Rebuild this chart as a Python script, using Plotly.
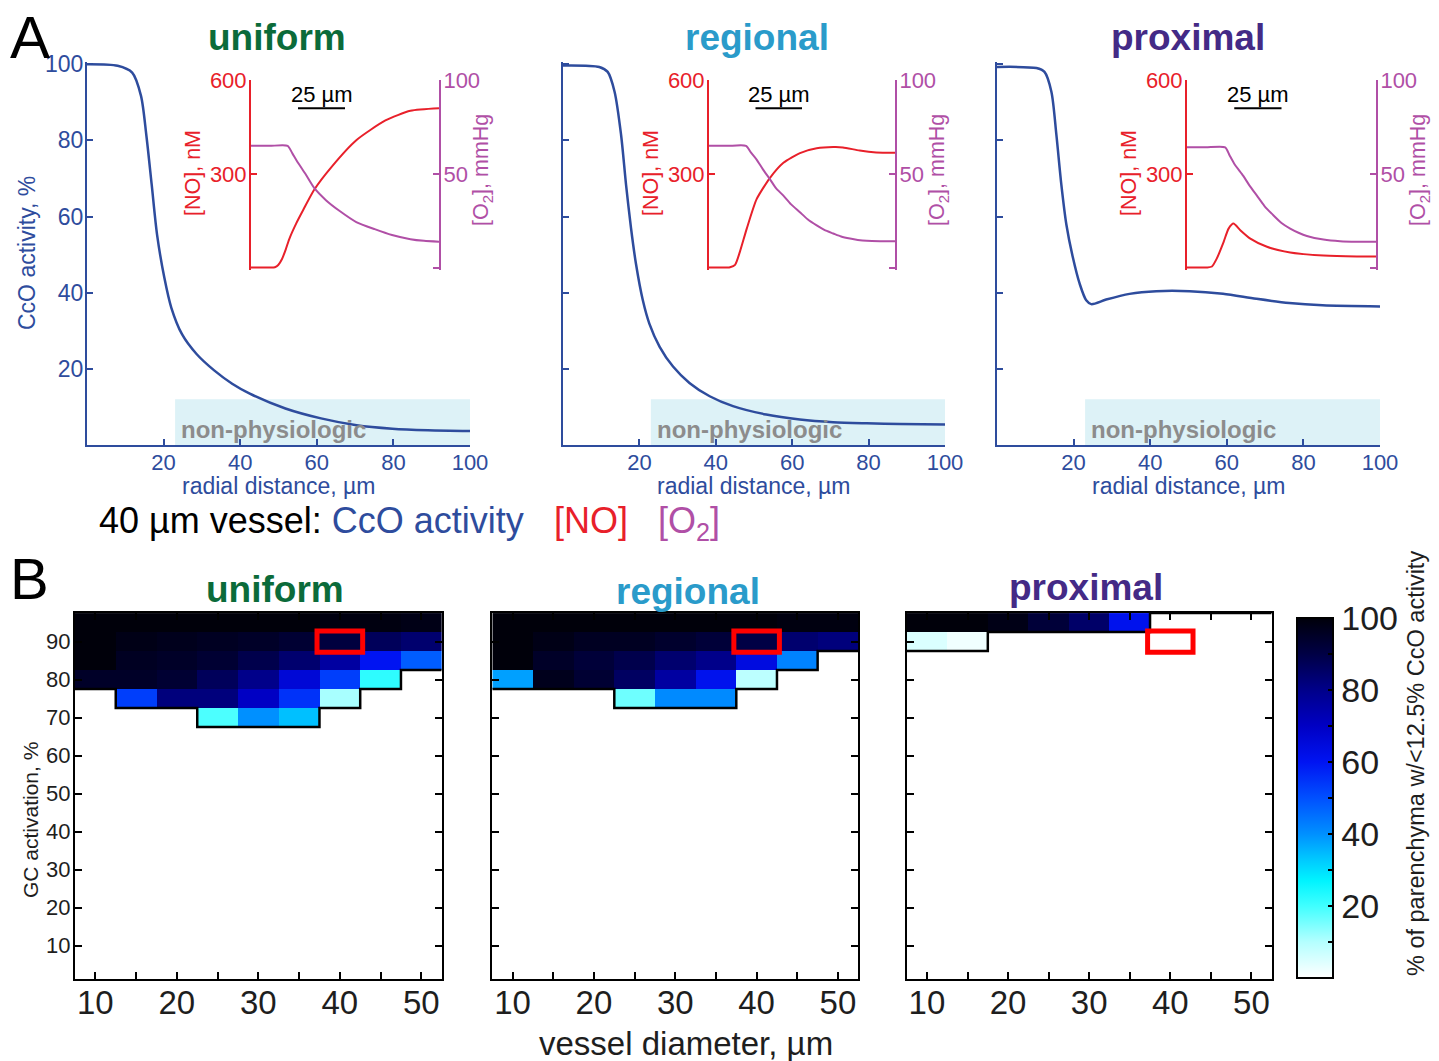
import plotly.graph_objects as go

W, H = 1439, 1061
FONT = "Liberation Sans, Arial, Helvetica, sans-serif"

# ---------------- data: panel A (40 um vessel) ----------------
scenarios = ["uniform", "regional", "proximal"]

uniform_cco_r = [0, 8, 11.8, 14.1, 15.5, 16.9, 18.3, 20.2, 22, 24.8, 28.6, 33.2, 37.9, 42.5, 51.8, 61.1, 70.4, 79.7, 89, 100]
uniform_cco = [100, 99.6, 97.8, 91.7, 81.3, 68.3, 55.2, 43.9, 36.1, 29.1, 23.9, 19.6, 16.1, 13.5, 9.6, 7.0, 5.2, 4.3, 3.9, 3.7]
regional_cco_r = [0, 9.5, 11.7, 13.5, 15.2, 16.5, 17.8, 19.1, 20.9, 22.6, 25.3, 28.8, 33.1, 38.4, 44.5, 53.2, 62, 70.7, 79.5, 88.2, 100]
regional_cco = [99.7, 99.3, 98, 92.8, 81.5, 68.4, 57, 47.6, 38, 31.9, 25.8, 20.6, 16.3, 12.8, 10.2, 8, 6.7, 6, 5.7, 5.5, 5.4]
proximal_cco_r = [0, 10.3, 12.4, 14.2, 15.5, 16.8, 18.1, 19.8, 21.6, 23.3, 24.6, 28.5, 34.6, 41.6, 50.3, 59, 67.7, 76.3, 85, 100]
proximal_cco = [99.3, 99, 98, 92.8, 81.5, 68.4, 58, 49.3, 42.3, 38, 37, 38.2, 39.7, 40.4, 40.4, 39.7, 38.4, 37.3, 36.7, 36.4]

uniform_no_r = [0, 10, 12.7, 14.5, 16.5, 18.5, 20.3, 24, 27.9, 33.6, 43, 56, 71.5, 84.8, 100]
uniform_no = [2, 2, 3, 10, 29, 60, 92, 142, 187, 250, 324, 408, 471, 502, 510]
regional_no_r = [0, 10, 11.3, 14, 16.6, 20.3, 25.6, 32.8, 40, 48.9, 57.9, 66.8, 72, 81, 89.9, 100]
regional_no = [2, 2, 3, 10.5, 52, 126, 220, 288, 336, 367, 382, 386, 385, 375, 369, 368]
proximal_no_r = [0, 10.6, 13.2, 15.8, 19.4, 22, 24.6, 28.2, 33.5, 42.3, 54.6, 72.2, 89.8, 100]
proximal_no = [2, 2, 5, 31, 84, 126, 142, 121, 94, 68, 50, 40, 37, 37]

uniform_o2_r = [0, 10, 19.5, 22, 25, 29, 33.6, 40, 47, 56, 65.8, 75, 84.8, 92, 100]
uniform_o2 = [65, 65, 65, 61, 56, 50, 42.6, 36, 30.5, 24.5, 20.7, 17.6, 15.4, 14.5, 14]
regional_o2_r = [0, 10, 19.9, 22.5, 25.6, 29, 32.8, 36, 40, 44, 48.9, 53, 57.9, 62, 66.8, 71, 75.8, 80, 84.8, 92, 100]
regional_o2 = [65, 65, 65, 61.5, 57.7, 52.5, 47.2, 42.5, 38.5, 34, 29.7, 26, 22.7, 20.3, 18.4, 16.8, 15.7, 15, 14.5, 14.3, 14.3]
proximal_o2_r = [0, 10, 20.2, 22.5, 25, 29.8, 33, 37, 41, 45.8, 50, 54.6, 59, 63.4, 72.2, 81, 89.8, 100]
proximal_o2 = [64.2, 64.2, 64.2, 60, 55.5, 49, 44, 38.5, 33, 28, 24, 21, 18.8, 17.1, 15.2, 14.3, 14, 14]

nonphys_start, nonphys_end, nonphys_top = 23, 100, 12
scale_bar_start, scale_bar_len, scale_bar_level = 25, 25, 510

# ---------------- data: panel B heatmaps ----------------
diameters = [10, 15, 20, 25, 30, 35, 40, 45, 50]
gc_levels = [95, 90, 85, 80, 75, 70]
N = None
uniform_z = [
    [100, 100, 100, 100, 100, 100, 99, 99, 98],
    [100, 98, 97, 96, 95, 93, 91, 87, 84],
    [100, 96, 95, 93, 89, 84, 76, 60, 48],
    [95, 95, 93, 87, 80, 66, 53, 22, N],
    [N, 53, 82, 82, 70, 55, 11, N, N],
    [N, N, N, 19, 40, 34, N, N, N],
]
regional_z = [
    [100, 100, 100, 100, 100, 100, 100, 99, 99],
    [100, 98, 96, 96, 94, 92, 90, 84, 82],
    [100, 95, 92, 89, 84, 80, 64, 42, N],
    [38, 97, 93, 86, 76, 61, 9, N, N],
    [N, N, N, 16, 41, 41, N, N, N],
    [N, N, N, N, N, N, N, N, N],
]
proximal_z = [
    [100, 100, 98, 92, 85, 61, N, N, N],
    [5, 2, N, N, N, N, N, N, N],
    [N, N, N, N, N, N, N, N, N],
    [N, N, N, N, N, N, N, N, N],
    [N, N, N, N, N, N, N, N, N],
    [N, N, N, N, N, N, N, N, N],
]
highlight_diameter, highlight_gc = 40, 90
x_ticks_B = [10, 20, 30, 40, 50]
x_minor_B = [15, 25, 35, 45]
y_ticks_B = [10, 20, 30, 40, 50, 60, 70, 80, 90]
cbar_ticks = [10, 20, 30, 40, 50, 60, 70, 80, 90, 100]
cbar_labels = ["", "20", "", "40", "", "60", "", "80", "", "100"]

# ---------------- styles ----------------
BLUE = "#2e4c9d"
RED = "#e8202a"
PURPLE = "#b04fa6"
TITLE_COLORS = ["#0b6b3a", "#2a9bca", "#442a86"]
NONPHYS_FILL = "#ddf2f7"
DARK = "#1e1e1e"
cscale = [[0.0, "#ffffff"], [0.1, "#b4ffff"], [0.2, "#40ffff"], [0.27, "#00f4ff"],
          [0.33, "#00c8ff"], [0.4, "#0090ff"], [0.5, "#0050ff"], [0.6, "#0014f2"],
          [0.7, "#0000c4"], [0.8, "#00008a"], [0.9, "#000045"], [1.0, "#00000a"]]

main_x = [(87, 470), (563, 945), (997, 1380)]
main_y = (62, 445)
inset_x = [(251, 439), (709, 895), (1187, 1376)]
inset_y = (80, 270)
heat_x = [(75, 441.7), (492.3, 858.3), (906.7, 1271.7)]
heat_y = (612.7, 979)


def fx(px):
    return px / W


def fy(py):
    return 1 - py / H


def axname(kind, n):
    return kind + "axis" + ("" if n == 1 else str(n))


def ref(kind, n):
    return kind + ("" if n == 1 else str(n))


cco = [(uniform_cco_r, uniform_cco), (regional_cco_r, regional_cco), (proximal_cco_r, proximal_cco)]
no = [(uniform_no_r, uniform_no), (regional_no_r, regional_no), (proximal_no_r, proximal_no)]
o2 = [(uniform_o2_r, uniform_o2), (regional_o2_r, regional_o2), (proximal_o2_r, proximal_o2)]
heat = [uniform_z, regional_z, proximal_z]

fig = go.Figure()
layout = dict(width=W, height=H, margin=dict(l=0, r=0, t=0, b=0, pad=0, autoexpand=False),
              paper_bgcolor="white", plot_bgcolor="rgba(0,0,0,0)",
              showlegend=False, font=dict(family=FONT))
shapes = []
annotations = []


def ann(text, px, py, size, color="black", xanchor="center", yanchor="middle", angle=0):
    annotations.append(dict(text=text, x=fx(px), y=fy(py), xref="paper", yref="paper",
                            showarrow=False, font=dict(size=size, color=color, family=FONT),
                            xanchor=xanchor, yanchor=yanchor, textangle=angle))


for i in range(3):
    # ---------- panel A main axes ----------
    m = i + 1
    layout[axname("x", m)] = dict(domain=[fx(main_x[i][0]), fx(main_x[i][1])], range=[0, 100],
                                  anchor=ref("y", m), showline=True, linecolor=BLUE, linewidth=2,
                                  ticks="inside", ticklen=6, tickwidth=1.5, tickcolor=BLUE,
                                  tickvals=[20, 40, 60, 80, 100], tickfont=dict(size=22, color=BLUE),
                                  ticklabelstandoff=-3, showgrid=False, zeroline=False)
    layout[axname("y", m)] = dict(domain=[fy(main_y[1]), fy(main_y[0])], range=[0, 100.6],
                                  anchor=ref("x", m), showline=True, linecolor=BLUE, linewidth=2,
                                  ticks="inside", ticklen=6, tickwidth=1.5, tickcolor=BLUE,
                                  tickvals=[20, 40, 60, 80, 100], showticklabels=(i == 0),
                                  tickfont=dict(size=23, color=BLUE), ticklabelstandoff=-3,
                                  showgrid=False, zeroline=False)
    shapes.append(dict(type="rect", xref=ref("x", m), yref=ref("y", m), x0=nonphys_start, x1=nonphys_end,
                       y0=0, y1=nonphys_top, fillcolor=NONPHYS_FILL, line=dict(width=0), layer="below"))
    annotations.append(dict(text="<b>non-physiologic</b>", xref=ref("x", m), yref=ref("y", m),
                            x=nonphys_start + 1, y=4, xanchor="left", yanchor="middle", showarrow=False,
                            font=dict(size=24, color="#8c8c8c", family=FONT)))
    fig.add_trace(go.Scatter(x=cco[i][0], y=cco[i][1], mode="lines", xaxis=ref("x", m), yaxis=ref("y", m),
                             line=dict(color=BLUE, width=2.5, shape="spline", smoothing=0.8)))

    # ---------- panel A insets ----------
    xi = 4 + i
    yno = 4 + i
    yo2 = 7 + i
    layout[axname("x", xi)] = dict(domain=[fx(inset_x[i][0]), fx(inset_x[i][1])], range=[0, 100],
                                   anchor=ref("y", yno), visible=False)
    layout[axname("y", yno)] = dict(domain=[fy(inset_y[1]), fy(inset_y[0])], range=[-6, 600],
                                    anchor=ref("x", xi), side="left", showline=True, linecolor=RED,
                                    linewidth=2, ticks="inside", ticklen=6, tickwidth=1.5, tickcolor=RED,
                                    tickvals=[300, 600], tickfont=dict(size=22, color=RED),
                                    ticklabelstandoff=-2, showgrid=False, zeroline=False)
    layout[axname("y", yo2)] = dict(domain=[fy(inset_y[1]), fy(inset_y[0])], range=[-1, 100],
                                    anchor=ref("x", xi), overlaying=ref("y", yno), side="right",
                                    showline=True, linecolor=PURPLE, linewidth=2, ticks="inside",
                                    ticklen=6, tickwidth=1.5, tickcolor=PURPLE, tickvals=[0, 50, 100],
                                    ticktext=["", "50", "100"], tickfont=dict(size=22, color=PURPLE),
                                    ticklabelstandoff=-2, showgrid=False, zeroline=False)
    fig.add_trace(go.Scatter(x=o2[i][0], y=o2[i][1], mode="lines", xaxis=ref("x", xi), yaxis=ref("y", yo2),
                             line=dict(color=PURPLE, width=2, shape="spline", smoothing=0.6)))
    fig.add_trace(go.Scatter(x=no[i][0], y=no[i][1], mode="lines", xaxis=ref("x", xi), yaxis=ref("y", yno),
                             line=dict(color=RED, width=2, shape="spline", smoothing=0.6)))
    shapes.append(dict(type="line", xref=ref("x", xi), yref=ref("y", yno), x0=scale_bar_start,
                       x1=scale_bar_start + scale_bar_len, y0=scale_bar_level, y1=scale_bar_level,
                       line=dict(color="black", width=2)))
    annotations.append(dict(text="25 µm", xref=ref("x", xi), yref=ref("y", yno),
                            x=scale_bar_start + scale_bar_len / 2, y=scale_bar_level, xanchor="center",
                            yanchor="bottom", yshift=-1, showarrow=False,
                            font=dict(size=22, color="black", family=FONT)))
    ann("[NO], nM", inset_x[i][0] - 58, 173, 21.5, RED, angle=-90)
    ann("[O<sub>2</sub>], mmHg", inset_x[i][1] + 44, 170, 21.5, PURPLE, angle=-90)
    ann("radial distance, µm", (main_x[i][0] + main_x[i][1]) / 2, 486, 23, BLUE)
    ann("<b>" + scenarios[i] + "</b>", [277, 757, 1188][i], 38, 37, TITLE_COLORS[i])

    # ---------- panel B heatmaps ----------
    h = 10 + i
    z = heat[i]
    fig.add_trace(go.Heatmap(x=diameters, y=gc_levels, z=z, coloraxis="coloraxis",
                             xaxis=ref("x", h), yaxis=ref("y", h), hoverongaps=False))
    # staircase outline between data and empty cells
    step = gc_levels[0] - gc_levels[1]
    dstep = diameters[1] - diameters[0]
    bottoms = []
    for j in range(len(diameters)):
        vals = [gc_levels[k] for k in range(len(gc_levels)) if z[k][j] is not None]
        bottoms.append(min(vals) - step / 2 if vals else max(gc_levels) + step / 2)
    ox = [diameters[0] - dstep / 2]
    oy = [bottoms[0]]
    for j in range(len(diameters)):
        ox.append(diameters[j] + dstep / 2)
        oy.append(bottoms[j])
        if j < len(diameters) - 1:
            ox.append(diameters[j] + dstep / 2)
            oy.append(bottoms[j + 1])
    fig.add_trace(go.Scatter(x=ox, y=oy, mode="lines", xaxis=ref("x", h), yaxis=ref("y", h),
                             line=dict(color="black", width=2.5)))
    shapes.append(dict(type="rect", xref=ref("x", h), yref=ref("y", h),
                       x0=highlight_diameter - dstep / 2 - 0.3, x1=highlight_diameter + dstep / 2 + 0.3,
                       y0=highlight_gc - step / 2 - 0.3, y1=highlight_gc + step / 2 + 0.3,
                       line=dict(color="#ff0000", width=5)))
    layout[axname("x", h)] = dict(domain=[fx(heat_x[i][0]), fx(heat_x[i][1])], range=[7.5, 52.5],
                                  anchor=ref("y", h), showline=True, mirror="ticks", linecolor="black",
                                  linewidth=2, ticks="inside", ticklen=7, tickwidth=1.5, tickcolor="black",
                                  tickvals=x_ticks_B,
                                  minor=dict(tickvals=x_minor_B, ticks="inside", ticklen=7, tickwidth=1.5,
                                             tickcolor="black"),
                                  tickfont=dict(size=33, color=DARK), ticklabelstandoff=-7,
                                  showgrid=False, zeroline=False)
    layout[axname("y", h)] = dict(domain=[fy(heat_y[1]), fy(heat_y[0])], range=[1.2, 97.6],
                                  anchor=ref("x", h), showline=True, mirror="ticks", linecolor="black",
                                  linewidth=2, ticks="inside", ticklen=7, tickwidth=1.5, tickcolor="black",
                                  tickvals=y_ticks_B, showticklabels=(i == 0),
                                  tickfont=dict(size=22, color=DARK), ticklabelstandoff=-2,
                                  showgrid=False, zeroline=False)
    ann("<b>" + scenarios[i] + "</b>", [275, 688, 1086][i], [589, 591, 587][i], 37, TITLE_COLORS[i])

layout["coloraxis"] = dict(colorscale=cscale, cmin=0, cmax=100,
                           colorbar=dict(x=fx(1296.7), xanchor="left", y=fy(978.3), yanchor="bottom",
                                         len=(978.3 - 618.3) / H, lenmode="fraction", thickness=36,
                                         thicknessmode="pixels", xpad=0, ypad=0, outlinecolor="black",
                                         outlinewidth=2, ticks="inside", ticklen=6, tickcolor="black",
                                         tickwidth=1.5, tickvals=cbar_ticks, ticktext=cbar_labels,
                                         tickfont=dict(size=34, color=DARK, family=FONT)))

ann("A", 8, 38, 60, "black", xanchor="left")
ann("B", 8, 578, 58, "black", xanchor="left")
ann("CcO activity, %", 27, 253, 23, BLUE, angle=-90)
ann("40 µm vessel: <span style='color:%s'>CcO activity</span>&nbsp;&nbsp;&nbsp;"
    "<span style='color:%s'>[NO]</span>&nbsp;&nbsp;&nbsp;<span style='color:%s'>[O<sub>2</sub>]</span>"
    % (BLUE, RED, PURPLE), 97, 523, 36, "black", xanchor="left")
ann("GC activation, %", 30, 820, 21, DARK, angle=-90)
ann("vessel diameter, µm", 686, 1043, 33, DARK)
ann("% of parenchyma w/<12.5% CcO activity", 1416, 764, 23.5, DARK, angle=-90)

layout["shapes"] = shapes
layout["annotations"] = annotations
fig.update_layout(**layout)
fig.write_html("out.html")
